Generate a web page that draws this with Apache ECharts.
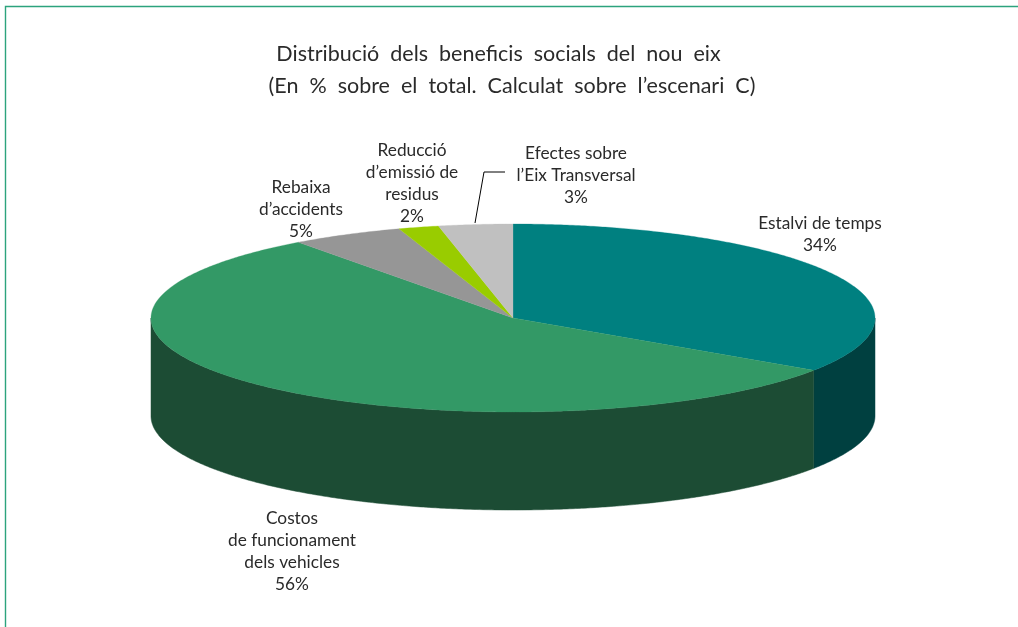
<!DOCTYPE html>
<html>
<head>
<meta charset="utf-8">
<style>html,body{margin:0;padding:0;background:#fff}#c{width:1018px;height:627px}</style>
<script src="https://cdn.jsdelivr.net/npm/echarts@6/dist/echarts.min.js"></script>
</head>
<body>
<div id="c"></div>
<script>
// Data (slice sizes; labels show them rounded)
const categories = ['Estalvi de temps', 'Costos\nde funcionament\ndels vehicles', 'Rebaixa\nd’accidents', 'Reducció\nd’emissió de\nresidus', 'Efectes sobre\nl’Eix Transversal'];
const shares = [34.4, 55.5, 5.0, 1.8, 3.3];
const titleLine1 = 'Distribució  dels  beneficis  socials  del  nou  eix';
const titleLine2 = '(En  %  sobre  el  total.  Calculat  sobre  l’escenari  C)';

// Style and layout
const topColors = ['#008080', '#339966', '#969696', '#99CC00', '#C0C0C0'];
const wallColors = ['#004040', '#1C4C34', '#4B4B4B', '#4C6600', '#606060'];
const FONT = 'Lato, "Open Sans", sans-serif';
const CX = 513, CY = 318, RX = 362, RY = 94, DEPTH = 98;
const labelAnchors = [[820, 213], [292, 508], [301, 177], [412, 140], [576, 143]];
const leaderLine = [[475, 223], [484, 172], [505, 172]];

const total = shares.reduce((a, b) => a + b, 0);
let running = 0;
const seriesData = shares.map((v, i) => {
  const start = running / total * 2 * Math.PI;
  running += v;
  return { name: categories[i], value: [v, start, running / total * 2 * Math.PI] };
});
const pt = (a, dy) => [CX + RX * Math.sin(a), CY - RY * Math.cos(a) + (dy || 0)];
const arc = (a, b, dy) => {
  const n = Math.max(2, Math.ceil((b - a) * 120)), out = [];
  for (let k = 0; k <= n; k++) out.push(pt(a + (b - a) * k / n, dy));
  return out;
};

function renderItem(params, api) {
  const i = params.dataIndex, v = api.value(0), a = api.value(1), b = api.value(2);
  const children = [];
  const wa = Math.max(a, Math.PI / 2), wb = Math.min(b, 3 * Math.PI / 2);
  if (wb > wa) {
    children.push({
      type: 'polygon',
      shape: { points: arc(wa, wb, 0).concat(arc(wa, wb, DEPTH).reverse()) },
      style: { fill: wallColors[i], stroke: wallColors[i], lineWidth: 0.5 }
    });
  }
  children.push({
    type: 'polygon',
    shape: { points: [[CX, CY]].concat(arc(a, b, 0)) },
    style: { fill: topColors[i], stroke: topColors[i], lineWidth: 0.3 }
  });
  children.push({
    type: 'text',
    style: {
      text: categories[i] + '\n' + Math.round(v) + '%',
      x: labelAnchors[i][0], y: labelAnchors[i][1],
      align: 'center', verticalAlign: 'top',
      font: '400 17.3px ' + FONT, lineHeight: 21.7, fill: '#2a2a2a'
    }
  });
  if (i === shares.length - 1) {
    children.push({
      type: 'polyline',
      shape: { points: leaderLine },
      style: { fill: 'none', stroke: '#000', lineWidth: 1 }
    });
  }
  return { type: 'group', children };
}

const chart = echarts.init(document.getElementById('c'), null, { renderer: 'canvas' });
chart.setOption({
  animation: false,
  backgroundColor: '#fff',
  title: [
    { text: titleLine1, left: 498.5 - 5, top: 38, textAlign: 'center',
      textStyle: { fontFamily: FONT, fontWeight: 400, fontSize: 21.5, color: '#2a2a2a' } },
    { text: titleLine2, left: 512 - 5, top: 70, textAlign: 'center',
      textStyle: { fontFamily: FONT, fontWeight: 400, fontSize: 21.5, color: '#2a2a2a' } }
  ],
  graphic: [{
    type: 'polyline',
    shape: { points: [[5.5, 640], [5.5, 6.5], [1030, 6.5]] },
    style: { fill: 'none', stroke: '#2CA37D', lineWidth: 1.4 },
    silent: true
  }],
  series: [{
    type: 'custom',
    coordinateSystem: 'none',
    renderItem,
    data: seriesData,
    silent: true
  }]
});
</script>
</body>
</html>
